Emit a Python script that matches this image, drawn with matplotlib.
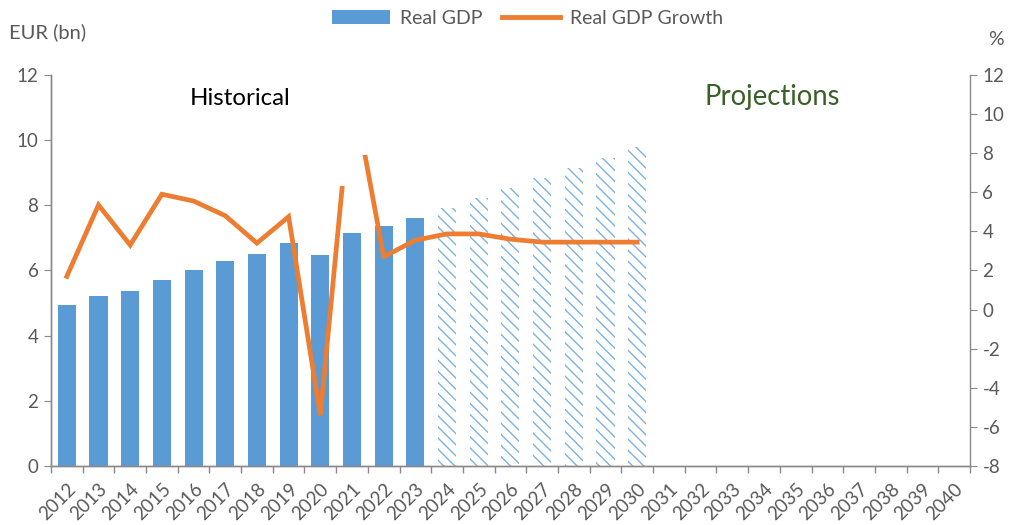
import matplotlib
matplotlib.use("Agg")
import matplotlib.pyplot as plt
from matplotlib.patches import Patch, Rectangle
from matplotlib.lines import Line2D

years = [str(y) for y in range(2012, 2041)]

# Real GDP, EUR bn
gdp_hist = [4.94, 5.21, 5.37, 5.71, 6.01, 6.29, 6.50, 6.84, 6.47, 7.15, 7.36, 7.60]
gdp_proj = [7.91, 8.22, 8.53, 8.83, 9.14, 9.45, 9.79]

# Real GDP growth, %
growth_hist = [1.7, 5.35, 3.3, 5.9, 5.55, 4.8, 3.4, 4.75, -5.4, 11.5]
growth_proj = [11.5, 2.7, 3.55, 3.87, 3.87, 3.6, 3.45, 3.45, 3.45, 3.45]
# where the two pieces of the growth line are cut off (%)
cut_hist = 6.3
cut_proj = 7.9

BLUE = "#5B9BD5"
ORANGE = "#ED7D31"
GREY = "#595959"
AXIS = "#898989"

plt.rcParams["font.family"] = ["Lato", "DejaVu Sans"]
plt.rcParams["hatch.linewidth"] = 1.0
plt.rcParams["axes.unicode_minus"] = False

fig = plt.figure(figsize=(10.11, 5.25), dpi=100)
ax = fig.add_axes([0.0504, 0.1124, 0.909, 0.7448])
ax2 = ax.twinx()

n_hist = len(gdp_hist)
x_hist = list(range(n_hist))
x_proj = list(range(n_hist, n_hist + len(gdp_proj)))

ax.bar(x_hist, gdp_hist, width=0.57, color=BLUE, zorder=2)
ax.bar(x_proj, gdp_proj, width=0.57, facecolor="white", edgecolor="#7DB1E0",
       linewidth=0, hatch="\\\\\\", zorder=2)

# growth line, split into historical and projected pieces
xg_hist = list(range(len(growth_hist)))
xg_proj = list(range(len(growth_hist) - 1, len(growth_hist) - 1 + len(growth_proj)))
l1, = ax2.plot(xg_hist, growth_hist, color=ORANGE, lw=3.4, solid_joinstyle="miter", zorder=3)
l2, = ax2.plot(xg_proj, growth_proj, color=ORANGE, lw=3.4, solid_joinstyle="round", zorder=3)
l1.set_clip_path(Rectangle((-1, -20), 40, 20 + cut_hist, transform=ax2.transData))
l2.set_clip_path(Rectangle((-1, -20), 40, 20 + cut_proj, transform=ax2.transData))

ax.set_xlim(-0.5, len(years) - 0.5)
ax.set_ylim(0, 12)
ax2.set_ylim(-8, 12)
ax.set_yticks(range(0, 13, 2))
ax2.set_yticks(range(-8, 13, 2))

ax.set_xticks(range(len(years)))
ax.set_xticklabels(years, rotation=45, ha="right", va="top", rotation_mode="anchor")
ax.set_xticks([i - 0.5 for i in range(len(years) + 1)], minor=True)
ax.tick_params(axis="x", which="major", length=0, pad=10, labelsize=13.5, labelcolor=GREY)
ax.tick_params(axis="x", which="minor", length=5, color=AXIS, width=1)
ax.tick_params(axis="y", length=5, color=AXIS, labelsize=13.5, labelcolor=GREY, pad=4)
ax2.tick_params(axis="y", length=5, color=AXIS, labelsize=13.5, labelcolor=GREY, pad=4)

for a in (ax, ax2):
    a.spines["top"].set_visible(False)
    for s in ("left", "right", "bottom"):
        a.spines[s].set_color(AXIS)
        a.spines[s].set_linewidth(1)
ax.spines["right"].set_visible(False)

fig.text(0.009, 0.939, "EUR (bn)", fontsize=14.5, color=GREY, va="center")
fig.text(0.985, 0.924, "%", fontsize=14, color=GREY, va="center", ha="center")
fig.text(0.238, 0.813, "Historical", fontsize=17.3, color="black",
         ha="center", va="center")
fig.text(0.764, 0.815, "Projections", fontsize=19.8, color="#3A5F28",
         ha="center", va="center")

handles = [Patch(facecolor=BLUE, edgecolor="none"),
           Line2D([0], [0], color=ORANGE, lw=3.5)]
fig.legend(handles, ["Real GDP", "Real GDP Growth"], loc="center", ncol=2,
           bbox_to_anchor=(0.522, 0.965), frameon=False, fontsize=14,
           labelcolor=GREY, handlelength=3.0, handletextpad=0.5, columnspacing=1.0)

fig.savefig("out.png", dpi=100)
